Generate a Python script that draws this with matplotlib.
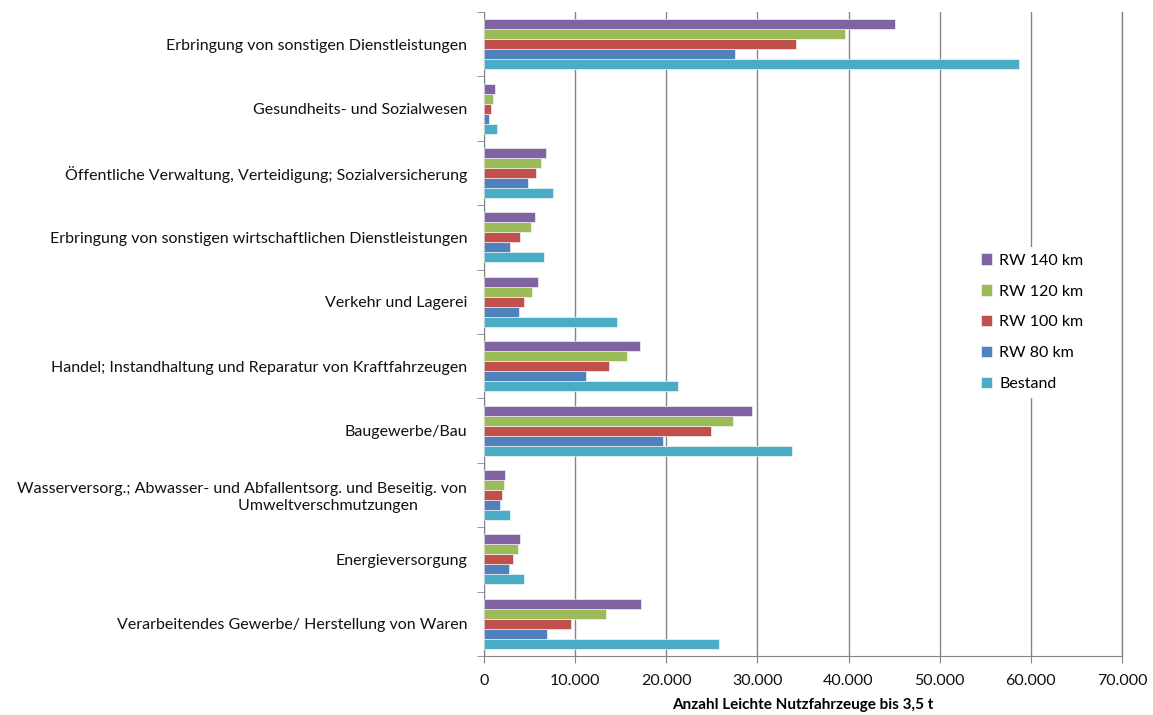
import matplotlib.pyplot as plt
import numpy as np
from matplotlib.ticker import FuncFormatter

plt.rcParams['font.family'] = ['Lato', 'DejaVu Sans']

# categories, bottom to top as drawn
categories = [
    "Verarbeitendes Gewerbe/ Herstellung von Waren",
    "Energieversorgung",
    "Wasserversorg.; Abwasser- und Abfallentsorg. und Beseitig. von\nUmweltverschmutzungen" + "\u00a0" * 12,
    "Baugewerbe/Bau",
    "Handel; Instandhaltung und Reparatur von Kraftfahrzeugen",
    "Verkehr und Lagerei",
    "Erbringung von sonstigen wirtschaftlichen Dienstleistungen",
    "Öffentliche Verwaltung, Verteidigung; Sozialversicherung",
    "Gesundheits- und Sozialwesen",
    "Erbringung von sonstigen Dienstleistungen",
]

bestand = [25750, 4350, 2820, 33800, 21250, 14580, 6560, 7580, 1470, 58720]
rw80 = [6890, 2750, 1800, 19670, 11210, 3850, 2860, 4870, 550, 27550]
rw100 = [9600, 3190, 2020, 24880, 13740, 4400, 3920, 5710, 740, 34180]
rw120 = [13410, 3700, 2170, 27300, 15650, 5320, 5170, 6260, 1030, 39560]
rw140 = [17220, 3920, 2310, 29420, 17110, 5870, 5650, 6810, 1210, 45060]

series = [("Bestand", bestand, "#4BACC6"),
          ("RW 80 km", rw80, "#4F81BD"),
          ("RW 100 km", rw100, "#C0504D"),
          ("RW 120 km", rw120, "#9BBB59"),
          ("RW 140 km", rw140, "#8064A2")]

fig = plt.figure(figsize=(11.53, 7.15), dpi=100)
ax = fig.add_axes([484 / 1153, 1 - 656 / 715, 638 / 1153, 644 / 715])

y = np.arange(len(categories))
h = 0.155
handles = []
for i, (name, vals, col) in enumerate(series):
    b = ax.barh(y + (i - 2) * h, vals, height=h, color=col, zorder=3,
                edgecolor='white', linewidth=0.4, label=name)
    handles.append(b)

ax.set_xlim(0, 70000)
ax.set_ylim(-0.5, len(categories) - 0.5)
ax.set_xticks(range(0, 70001, 10000))
ax.xaxis.set_major_formatter(FuncFormatter(lambda v, p: f"{int(v):,}".replace(",", ".")))
ax.set_yticks(y)
ax.set_yticklabels(categories, fontsize=11.5, color='#111111')
ax.set_yticks(np.arange(-0.5, len(categories), 1), minor=True)
ax.tick_params(axis='y', which='major', length=0, pad=12)
ax.tick_params(axis='y', which='minor', length=5, color='#868686', direction='out')
ax.tick_params(axis='x', length=5, color='#868686', direction='out', labelsize=11.5,
               pad=8, labelcolor='#111111')

ax.grid(axis='x', color='#868686', linewidth=1, zorder=0)
ax.axvline(70000, color='#868686', linewidth=1, zorder=0, clip_on=False)
for s in ['top', 'right']:
    ax.spines[s].set_visible(False)
for s in ['left', 'bottom']:
    ax.spines[s].set_color('#868686')

ax.set_xlabel("Anzahl Leichte Nutzfahrzeuge bis 3,5 t", fontsize=11,
              fontweight='bold', labelpad=7)

leg = ax.legend(handles[::-1], [s[0] for s in series][::-1], loc='center left',
                bbox_to_anchor=(0.769, 0.518), frameon=True, fontsize=11.5,
                handlelength=0.7, handleheight=0.7, labelspacing=1.05,
                borderaxespad=0, handletextpad=0.45)
leg.get_frame().set_edgecolor('none')
leg.get_frame().set_facecolor('white')
leg.get_frame().set_alpha(1)

fig.savefig("out.png", dpi=100)
